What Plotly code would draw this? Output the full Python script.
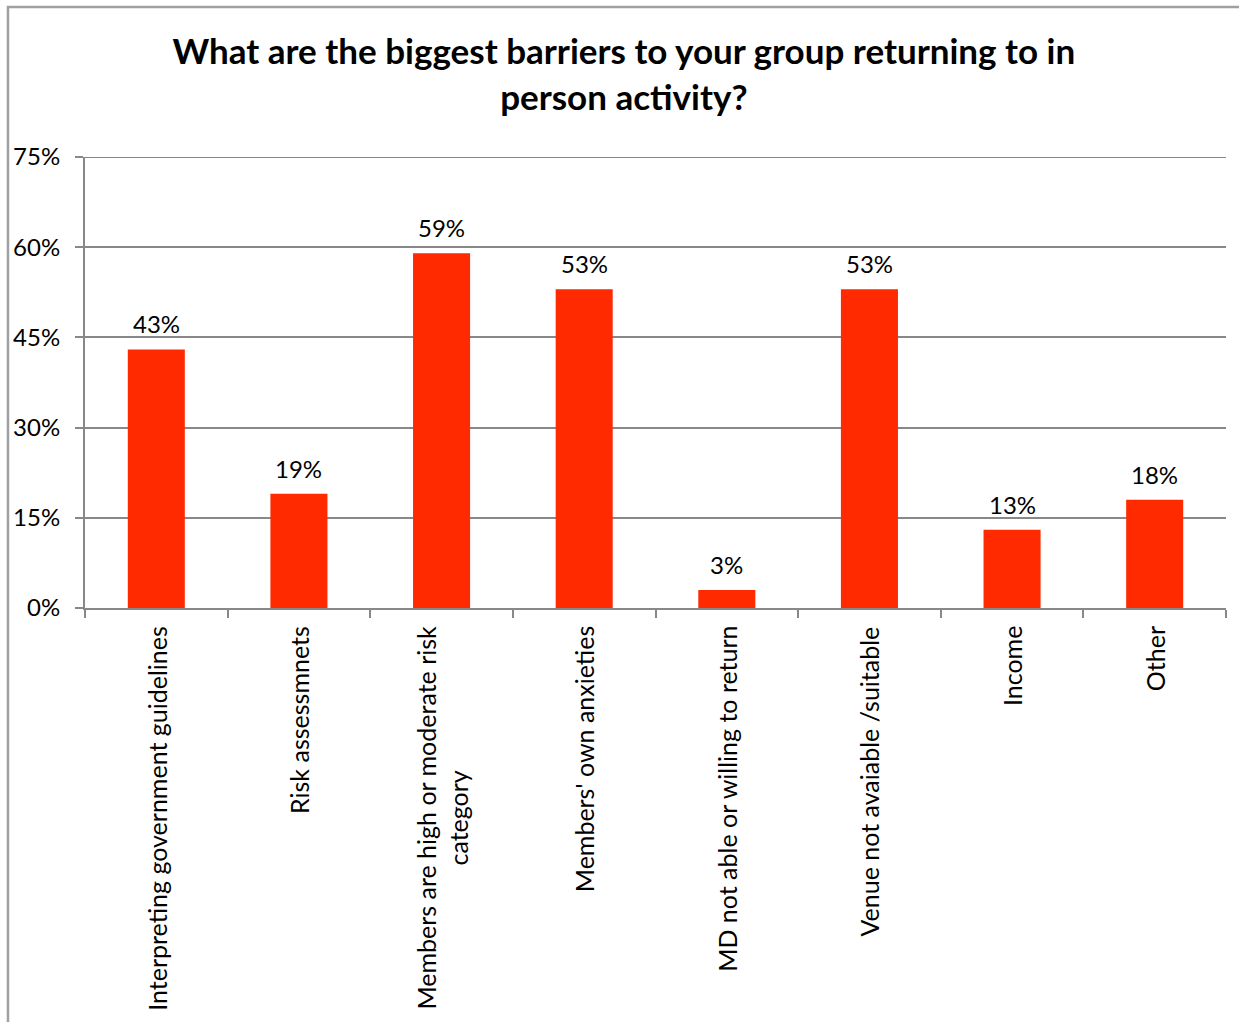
import plotly.graph_objects as go

# Survey results: share of groups citing each barrier
categories = [
    "Interpreting government guidelines",
    "Risk assessmnets",
    "Members are high or moderate risk<br>category",
    "Members' own anxieties",
    "MD not able or willing to return",
    "Venue not avaiable /suitable",
    "Income",
    "Other",
]
values = [43, 19, 59, 53, 3, 53, 13, 18]

y_ticks = [0, 15, 30, 45, 60, 75]
y_tick_labels = ["0%", "15%", "30%", "45%", "60%", "75%"]

FONT = "Lato"
GRID = "#888888"
BAR = "#ff2a00"

fig = go.Figure()
fig.add_trace(go.Bar(
    x=list(range(len(categories))),
    y=values,
    width=0.4,
    marker=dict(color=BAR, line=dict(width=0)),
    hoverinfo="skip",
))

# value labels above each bar
for i, v in enumerate(values):
    fig.add_annotation(
        x=i, y=v, xref="x", yref="y",
        text=f"{v}%", showarrow=False,
        yanchor="bottom", yshift=9,
        font=dict(family=FONT, size=24, color="#000000"),
    )

# rotated category labels under the axis
for i, c in enumerate(categories):
    fig.add_annotation(
        x=i, y=0, xref="x", yref="paper",
        text=c, showarrow=False, textangle=-90,
        yanchor="top", yshift=-16, align="center",
        font=dict(family=FONT, size=25, color="#000000"),
    )

# top gridline at the upper end of the value axis
fig.add_shape(
    type="line", xref="paper", yref="y",
    x0=0, x1=1, y0=75, y1=75,
    line=dict(color=GRID, width=2),
)

# outer chart frame
fig.add_shape(
    type="rect", xref="paper", yref="paper",
    x0=-0.0675, x1=1.2, y0=-1.2, y1=1.3326,
    line=dict(color="#a0a0a0", width=2.5), fillcolor="rgba(0,0,0,0)",
    layer="below",
)

fig.update_layout(
    width=1239, height=1022,
    margin=dict(l=85, r=13, t=157, b=414),
    paper_bgcolor="white", plot_bgcolor="white",
    showlegend=False, bargap=0.6,
    title=dict(
        text="<b>What are the biggest barriers to your group returning to in<br>person activity?</b>",
        x=0.5035, xref="container", xanchor="center",
        y=1 - 64 / 1022, yref="container", yanchor="top",
        font=dict(family=FONT, size=35, color="#000000"),
    ),
    xaxis=dict(
        range=[-0.5, len(categories) - 0.5],
        tickmode="array",
        tickvals=[i - 0.5 for i in range(len(categories) + 1)],
        showticklabels=False,
        ticks="outside", ticklen=8, tickwidth=2, tickcolor=GRID,
        showline=True, linecolor=GRID, linewidth=2,
        showgrid=False, zeroline=False, fixedrange=True,
    ),
    yaxis=dict(
        range=[0, 75],
        tickmode="array", tickvals=y_ticks, ticktext=y_tick_labels,
        ticks="outside", ticklen=8, tickwidth=2, tickcolor=GRID,
        showline=True, linecolor=GRID, linewidth=2,
        showgrid=True, gridcolor=GRID, gridwidth=2,
        zeroline=False,
        tickfont=dict(family=FONT, size=24, color="#000000"),
        ticklabelstandoff=10, fixedrange=True,
    ),
)

fig.write_html("out.html")
